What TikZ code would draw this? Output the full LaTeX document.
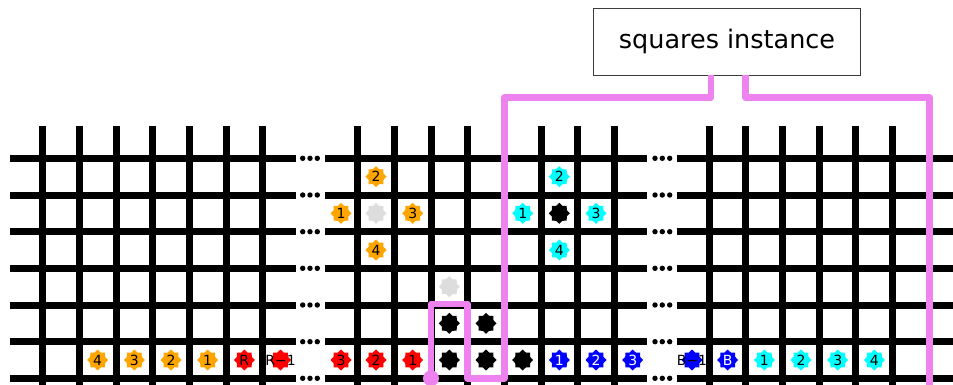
\documentclass[tikz,border=0pt]{standalone}
\usepackage{fontspec}
\setmainfont{DejaVu Sans}
\usetikzlibrary{shapes.geometric}
\definecolor{pinkline}{RGB}{238,130,238}
\definecolor{tokgray}{RGB}{221,221,221}
\definecolor{tokorange}{RGB}{255,165,0}
\definecolor{tokcyan}{RGB}{0,255,255}
\definecolor{tokblue}{RGB}{0,0,255}
\definecolor{tokred}{RGB}{255,0,0}
\definecolor{boxgray}{RGB}{60,60,60}
\tikzset{
  gridline/.style={line width=7pt, black, line cap=butt},
  tok/.style={star, star points=8, star point ratio=1.3, minimum size=21pt, inner sep=0pt, draw=none},
  toktext/.style={inner sep=0pt, font=\fontsize{14}{14}\selectfont},
  pinkpath/.style={draw=pinkline, line width=6.5pt, line join=round},
  labelbox/.style={draw=boxgray, line width=0.9pt, fill=white, minimum width=267pt, minimum height=66.7pt, inner sep=0pt, font=\fontsize{25.5}{26}\selectfont},
}
% \mytok{name}{x}{y}{fill}{text colour}{text}
\newcommand{\mytok}[6]{%
  \node[tok, fill=#4] (#1) at (#2,#3) {};
  \node[toktext, text=#5] (#1l) at (#1) {#6};
}
\begin{document}
\begin{tikzpicture}[x=1pt,y=-1pt]
\useasboundingbox (0,0) rectangle (953,385);
% horizontal grid lines
\foreach \y in {158.3,195,231.7,268.3,305,341.7,378.3}{
  \draw[gridline] (10,\y) -- (296,\y);
  \draw[gridline] (325,\y) -- (647,\y);
  \draw[gridline] (676.7,\y) -- (953,\y);
  \foreach \x in {302.7,310,317.3,655,662.3,669.7}{
    \fill (\x,\y) circle (2.7);
  }
}
% vertical grid lines
\foreach \k in {0,...,6}{
  \draw[gridline] ({42.7+36.67*\k},126) -- ({42.7+36.67*\k},385);
  \draw[gridline] ({709.3+36.67*\k},126) -- ({709.3+36.67*\k},385);
}
\foreach \k in {0,...,7}{
  \draw[gridline] ({357.7+36.67*\k},126) -- ({357.7+36.67*\k},385);
}
% left block tokens
\mytok{a4}{97.7}{360}{tokorange}{black}{4}
\mytok{a3}{134.3}{360}{tokorange}{black}{3}
\mytok{a2}{171}{360}{tokorange}{black}{2}
\mytok{a1}{207.7}{360}{tokorange}{black}{1}
\mytok{aR}{244.3}{360}{tokred}{black}{R}
\mytok{aRm}{280.5}{360}{tokred}{black}{R−1}
% middle block tokens
\mytok{o2}{376}{176.7}{tokorange}{black}{2}
\mytok{o1}{341}{213.3}{tokorange}{black}{1}
\mytok{og}{376}{213.3}{tokgray}{black}{}
\mytok{o3}{412.7}{213.3}{tokorange}{black}{3}
\mytok{o4}{376}{250}{tokorange}{black}{4}
\mytok{g2}{449.3}{286.7}{tokgray}{black}{}
\mytok{k1}{449.3}{323.3}{black}{black}{}
\mytok{k2}{486}{323.3}{black}{black}{}
\mytok{r3}{341}{360}{tokred}{black}{3}
\mytok{r2}{376}{360}{tokred}{black}{2}
\mytok{r1}{412.7}{360}{tokred}{black}{1}
\mytok{k3}{449.3}{360}{black}{black}{}
\mytok{k4}{486}{360}{black}{black}{}
\mytok{k5}{522.7}{360}{black}{black}{}
\mytok{b1}{559.3}{360}{tokblue}{white}{1}
\mytok{b2}{596}{360}{tokblue}{white}{2}
\mytok{b3}{632.7}{360}{tokblue}{white}{3}
\mytok{c2}{559.3}{176.7}{tokcyan}{black}{2}
\mytok{c1}{522.7}{213.3}{tokcyan}{black}{1}
\mytok{ck}{559.3}{213.3}{black}{black}{}
\mytok{c3}{596}{213.3}{tokcyan}{black}{3}
\mytok{c4}{559.3}{250}{tokcyan}{black}{4}
% right block tokens
\mytok{bBm}{692}{360}{tokblue}{black}{B−1}
\mytok{bB}{727.7}{360}{tokblue}{white}{B}
\mytok{d1}{764.3}{360}{tokcyan}{black}{1}
\mytok{d2}{801}{360}{tokcyan}{black}{2}
\mytok{d3}{837.7}{360}{tokcyan}{black}{3}
\mytok{d4}{874.3}{360}{tokcyan}{black}{4}
% label box
\node[labelbox] (box) at (727,41.7) {squares instance};
% pink instance outline
\coordinate (p0) at (431,378.3);
\coordinate (pend) at (929.3,385);
\draw[pinkpath] (p0) -- (431,304) -- (467.7,304) -- (467.7,378.3) -- (504.3,378.3) -- (504.3,97.7) -- (711,97.7) -- (711,0 |- box.south);
\draw[pinkpath] (745.7,0 |- box.south) -- (745.7,97.7) -- (929.3,97.7) -- (pend);
\fill[pinkline] (p0) circle (8);
\end{tikzpicture}
\end{document}
